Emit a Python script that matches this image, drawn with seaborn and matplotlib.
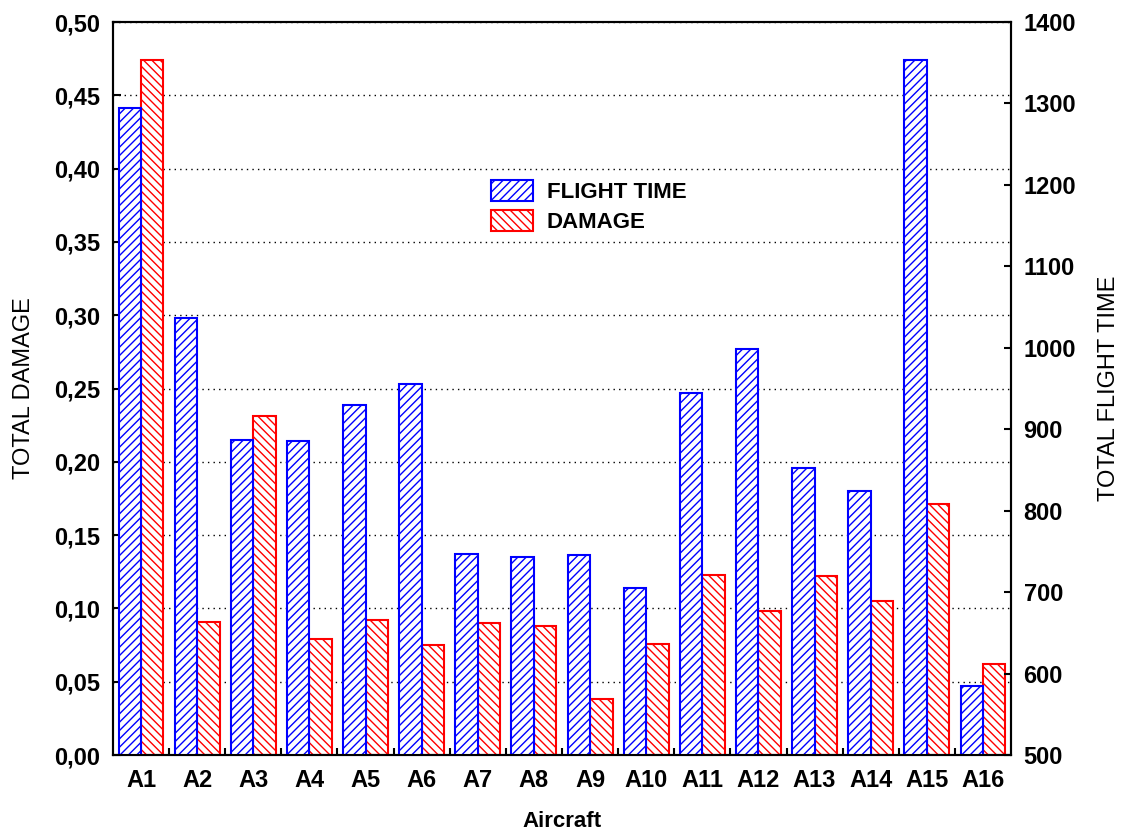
import pandas as pd
import matplotlib
matplotlib.use("Agg")
import matplotlib.pyplot as plt
from matplotlib.patches import Patch
from matplotlib.ticker import FuncFormatter, MultipleLocator, FixedLocator
import seaborn as sns

# dati
aircraft = ["A1", "A2", "A3", "A4", "A5", "A6", "A7", "A8",
            "A9", "A10", "A11", "A12", "A13", "A14", "A15", "A16"]
flight_time = [1294, 1036, 887, 885, 930, 955, 747, 743,
               745, 705, 945, 999, 853, 824, 1353, 585]
damage = [0.474, 0.091, 0.231, 0.079, 0.092, 0.075, 0.090, 0.088,
          0.038, 0.076, 0.123, 0.098, 0.122, 0.105, 0.171, 0.062]
series = ["FLIGHT TIME", "DAMAGE"]

df_dmg = pd.DataFrame({"Aircraft": aircraft, "val": damage, "serie": "DAMAGE"})
df_ft = pd.DataFrame({"Aircraft": aircraft, "val": flight_time, "serie": "FLIGHT TIME"})

sns.set_theme(style="white")
plt.rcParams["font.family"] = ["Liberation Sans", "DejaVu Sans"]
plt.rcParams["text.color"] = "black"
plt.rcParams["hatch.linewidth"] = 1.0

fig = plt.figure(figsize=(11.24, 8.34), dpi=100)
ax = fig.add_axes([0.1005, 0.0947, 0.799, 0.8789])
ax2 = ax.twinx()

colori = {"FLIGHT TIME": "blue", "DAMAGE": "red"}
tratteggio = {"FLIGHT TIME": "////", "DAMAGE": "\\\\\\\\"}

sns.barplot(data=df_dmg, x="Aircraft", y="val", hue="serie", hue_order=series,
            order=aircraft, palette=colori, dodge=True, width=0.8,
            legend=False, ax=ax, saturation=1)
sns.barplot(data=df_ft, x="Aircraft", y="val", hue="serie", hue_order=series,
            order=aircraft, palette=colori, dodge=True, width=0.8,
            legend=False, ax=ax2, saturation=1)

for a, nome in [(ax, "DAMAGE"), (ax2, "FLIGHT TIME")]:
    for p in a.patches:
        p.set_facecolor("white")
        p.set_edgecolor(colori[nome])
        p.set_hatch(tratteggio[nome])
        p.set_linewidth(1.5)

ax.set_xlim(-0.5, len(aircraft) - 0.5)
ax.set_ylim(0, 0.5)
ax2.set_ylim(500, 1400)

ax.yaxis.set_major_locator(MultipleLocator(0.05))
ax.yaxis.set_major_formatter(FuncFormatter(lambda v, p: f"{v:.2f}".replace(".", ",")))
ax2.yaxis.set_major_locator(MultipleLocator(100))

ax.set_axisbelow(True)
ax.yaxis.grid(True, linestyle=(0, (1, 3)), color="black", linewidth=1.0)
ax.xaxis.grid(False)
ax2.grid(False)

# tacche dell'asse x tra le categorie
ax.xaxis.set_minor_locator(FixedLocator([i + 0.5 for i in range(len(aircraft) - 1)]))
ax.tick_params(axis="x", which="major", length=0, pad=10)
ax.tick_params(axis="x", which="minor", direction="in", length=5, width=1.5, color="black", bottom=True)
ax.tick_params(axis="y", direction="in", length=6, width=1.5, color="black", left=True, pad=9)
ax2.tick_params(axis="y", direction="in", length=5, width=1.5, color="black", right=True, pad=9)

for lab in ax.get_xticklabels() + ax.get_yticklabels() + ax2.get_yticklabels():
    lab.set_fontsize(17)
    lab.set_fontweight("bold")
    lab.set_color("black")

for a in (ax, ax2):
    for s in a.spines.values():
        s.set_color("black")
        s.set_linewidth(1.5)
        s.set_visible(True)

ax.set_xlabel("Aircraft", fontsize=16, fontweight="bold", color="black", labelpad=14)
ax.set_ylabel("TOTAL DAMAGE", fontsize=17, color="black", labelpad=14)
ax2.set_ylabel("TOTAL FLIGHT TIME", fontsize=17, color="black", labelpad=16)

maniglie = [Patch(facecolor="white", edgecolor=colori[s], hatch=tratteggio[s], linewidth=1.5) for s in series]
fig.legend(maniglie, series, loc="upper left", bbox_to_anchor=(0.419, 0.808),
           frameon=False, handlelength=1.9, handleheight=1.1,
           labelspacing=0.3, handletextpad=0.6, labelcolor="black",
           prop={"weight": "bold", "size": 16})

fig.savefig("out.png", dpi=100)
